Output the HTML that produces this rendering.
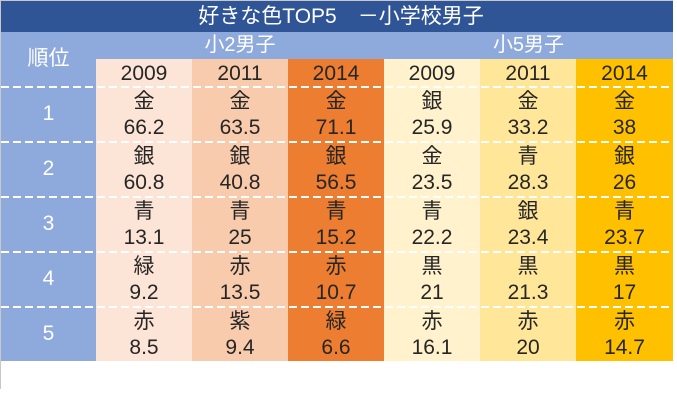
<!DOCTYPE html>
<html><head><meta charset="utf-8"><style>
body{margin:0;width:677px;height:404px;background:#fff;position:relative;overflow:hidden;font-family:"Liberation Sans","Noto Sans CJK JP",sans-serif;}
div{position:absolute;box-sizing:border-box;}
.t{color:#262626;font-size:21px;text-align:center;line-height:26px;}
.w{color:#fff;text-align:center;}
.dash{height:2px;left:1px;width:672px;background:repeating-linear-gradient(90deg,#fff 0 8px,transparent 8px 12px);}
</style></head><body>
<div style="left:0;top:0;width:1px;height:389px;background:#c8c8c8"></div>
<div style="left:0;top:0;width:673px;height:1px;background:#c8c8c8"></div>
<div class="w" style="left:1px;top:1px;width:672px;height:31px;background:#2F5597;font-size:21px;line-height:31px;padding-left:8px">好きな色TOP5　－小学校男子</div>
<div style="left:1px;top:32px;width:672px;height:54px;background:#8EA9DB"></div>
<div class="w" style="left:1px;top:32px;width:95px;height:54px;line-height:54px;font-size:21px">順位</div>
<div class="w" style="left:96px;top:32px;width:288px;height:27px;line-height:27px;font-size:20px">小2男子</div>
<div class="w" style="left:384px;top:32px;width:289px;height:27px;line-height:27px;font-size:20px">小5男子</div>
<div style="left:1px;top:86px;width:95px;height:275px;background:#8EA9DB"></div>
<script>
const years=["2009","2011","2014","2009","2011","2014"];
const colors=["#FCE4D6","#F8CBAD","#ED7D31","#FFF2CC","#FFE699","#FFC000"];
const names=[["金","銀","青","緑","赤"],["金","銀","青","赤","紫"],["金","銀","青","赤","緑"],["銀","金","青","黒","赤"],["金","青","銀","黒","赤"],["金","銀","青","黒","赤"]];
const values=[["66.2","60.8","13.1","9.2","8.5"],["63.5","40.8","25","13.5","9.4"],["71.1","56.5","15.2","10.7","6.6"],["25.9","23.5","22.2","21","16.1"],["33.2","28.3","23.4","21.3","20"],["38","26","23.7","17","14.7"]];
const ranks=["1","2","3","4","5"];
const b=document.body;
function mk(css,cls,txt){const d=document.createElement('div');d.style.cssText=css;if(cls)d.className=cls;if(txt!=null)d.textContent=txt;b.appendChild(d);return d;}
const colX=i=>96+i*96, rowY=r=>86+r*55;
years.forEach((y,i)=>{
 const w=i==5?97:96;
 const c=mk(`left:${colX(i)}px;top:59px;width:${w}px;height:302px;background:${colors[i]}`);
 
 
 const h=mk(`left:${colX(i)}px;top:59px;width:${w}px;height:27px;line-height:29px`,'t',y);
 
 
 names[i].forEach((n,r)=>{
  const a=mk(`left:${colX(i)}px;top:${rowY(r)+3}px;width:${w}px`,'t',n);
  
  
  const v=mk(`left:${colX(i)}px;top:${rowY(r)+29}px;width:${w}px`,'t',values[i][r]);
  
  
 });
});
ranks.forEach((k,r)=>{
 const d=mk(`left:1px;top:${rowY(r)}px;width:95px;height:55px;line-height:55px;font-size:21px`,'w',k);
 
 
 const l=mk(`top:${rowY(r)}px`,'dash');
 
 
});
</script>
</body></html>
